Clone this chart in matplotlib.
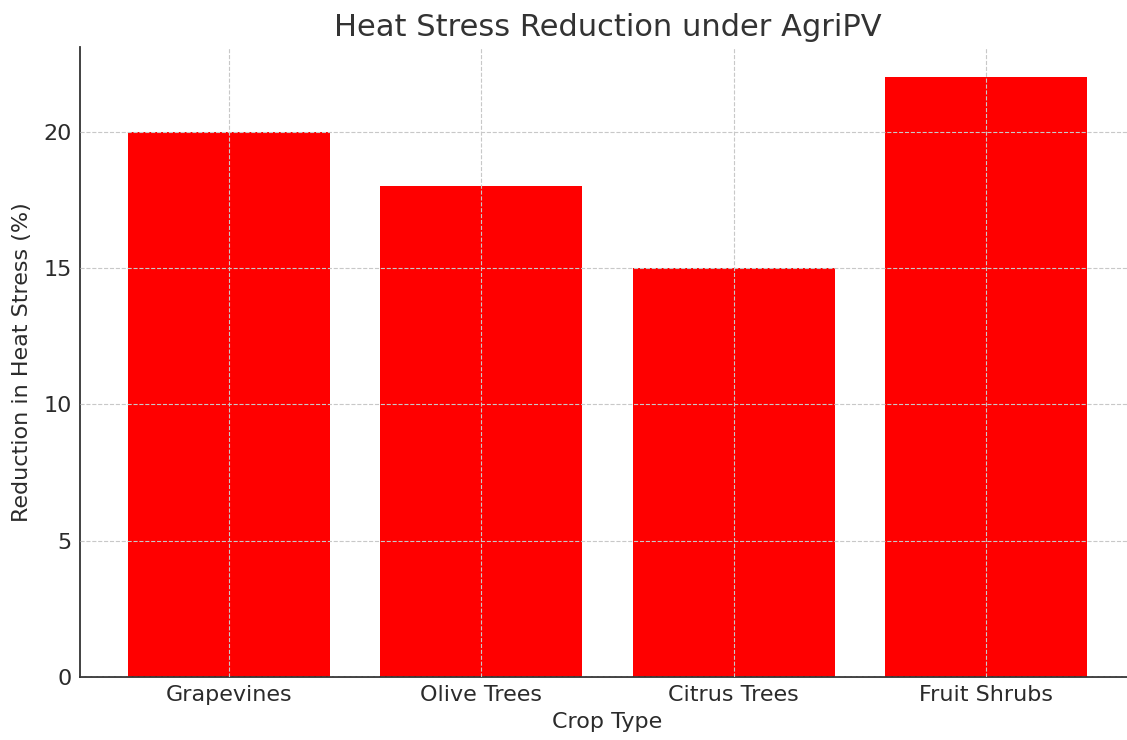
import matplotlib
matplotlib.use("Agg")
import matplotlib.pyplot as plt

crops = ["Grapevines", "Olive Trees", "Citrus Trees", "Fruit Shrubs"]
reduction = [20, 18, 15, 22]

W, H = 1127, 740
fig = plt.figure(figsize=(W / 100, H / 100), dpi=100)
left, right, bottom, top = 80, 1135, 677, 47
ax = fig.add_axes([left / W, (H - bottom) / H, (right - left) / W, (bottom - top) / H])

ax.bar(crops, reduction, color="#ff0000", width=0.8, zorder=1)
ax.set_axisbelow(False)
ax.grid(True, linestyle="--", color="#c8c8c8", linewidth=0.8, zorder=2)

txt = "#2b2b2b"
ax.set_title("Heat Stress Reduction under AgriPV", fontsize=22, color="#333333", pad=8)
ax.set_xlabel("Crop Type", fontsize=16, color=txt, labelpad=5)
ax.set_ylabel("Reduction in Heat Stress (%)", fontsize=16, color=txt, labelpad=8)
ax.tick_params(axis="both", length=0, labelsize=16, labelcolor=txt, pad=6)
ax.set_yticks([0, 5, 10, 15, 20])
for s in ["top", "right"]:
    ax.spines[s].set_visible(False)
for s in ["left", "bottom"]:
    ax.spines[s].set_color("#333333")
    ax.spines[s].set_linewidth(1.3)

fig.savefig("out.png", dpi=100)
